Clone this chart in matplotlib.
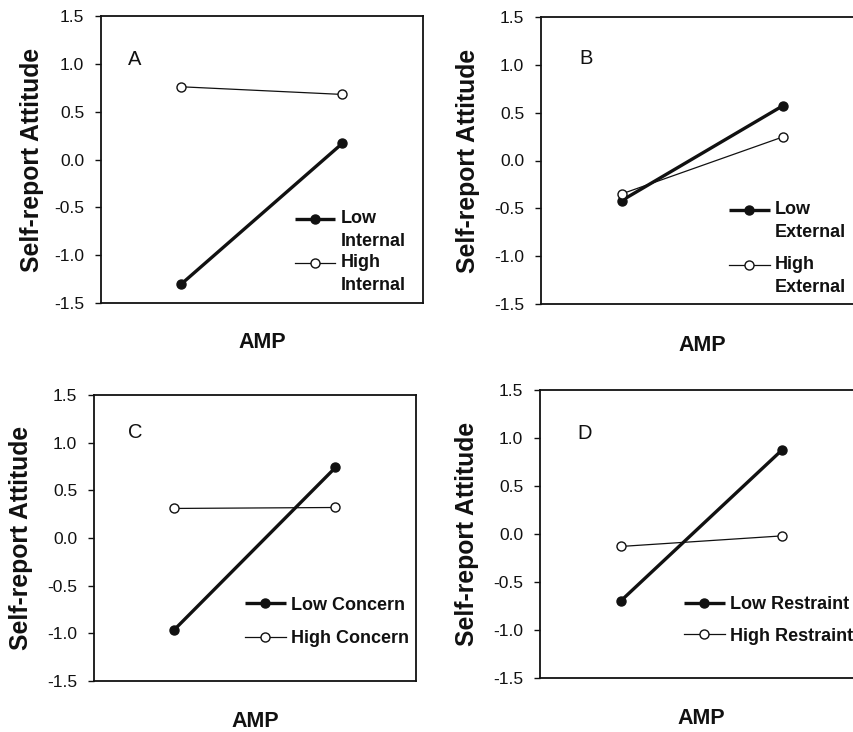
import numpy as np
import matplotlib
matplotlib.use("Agg")
import matplotlib.pyplot as plt
from matplotlib.legend_handler import HandlerLine2D

plt.rcParams['font.family'] = ['Liberation Sans', 'DejaVu Sans']

# ---- data ----
amp_levels = [0, 1]  # low AMP, high AMP
panel_letters = ["A", "B", "C", "D"]
low_labels = ["Low\nInternal", "Low\nExternal", "Low Concern", "Low Restraint"]
high_labels = ["High\nInternal", "High\nExternal", "High Concern", "High Restraint"]
low_A = [-1.30, 0.17]
high_A = [0.76, 0.68]
low_B = [-0.42, 0.57]
high_B = [-0.35, 0.245]
low_C = [-0.96, 0.74]
high_C = [0.31, 0.32]
low_D = [-0.70, 0.87]
high_D = [-0.13, -0.02]
yticks = [-1.5, -1.0, -0.5, 0.0, 0.5, 1.0, 1.5]
ytick_labels = ["-1.5", "-1.0", "-0.5", "0.0", "0.5", "1.0", "1.5"]

lows = [low_A, low_B, low_C, low_D]
highs = [high_A, high_B, high_C, high_D]

W, H = 854, 732
fig = plt.figure(figsize=(W / 100, H / 100), dpi=100)


def rect(l, t, w, b):
    return [l / W, 1 - b / H, w / W, (b - t) / H]


positions = [rect(101, 16, 322, 303), rect(541, 17, 322, 304),
             rect(94, 395, 322, 681), rect(540, 390, 322, 678)]
letter_pos = [(0.084, 0.85), (0.118, 0.854), (0.105, 0.87), (0.115, 0.85)]
ylab_x = [-0.215, -0.227, -0.227, -0.227]
xlab_y = [-0.139, -0.146, -0.14, -0.142]
leg_anchor = [(0.602, 0.179), (0.584, 0.193), (0.469, 0.207), (0.447, 0.2)]
leg_spacing = [0.22, 0.85, 0.89, 0.8]
multi = [True, True, False, False]

FS_LEG = 13
LINESP = 1.47
LINE_PITCH_PT = 16.0  # distance between lines of a two-line label, in points


class FirstLineHandler(HandlerLine2D):
    def __init__(self, shift_pts=0.0, **kw):
        super().__init__(**kw)
        self.shift_pts = shift_pts

    def create_artists(self, legend, orig_handle, xdescent, ydescent,
                       width, height, fontsize, trans):
        arts = super().create_artists(legend, orig_handle, xdescent, ydescent,
                                      width, height, fontsize, trans)
        for a in arts:
            a.set_ydata(np.asarray(a.get_ydata(), dtype=float) + self.shift_pts)
        return arts


for i in range(4):
    ax = fig.add_axes(positions[i])
    l1, = ax.plot(amp_levels, lows[i], color='#111111', lw=2.4, marker='o',
                  ms=6.5, mfc='#111111', mec='#111111', label=low_labels[i],
                  solid_capstyle='butt')
    l2, = ax.plot(amp_levels, highs[i], color='#111111', lw=0.9, marker='o',
                  ms=6.5, mfc='white', mec='#111111', mew=1.0,
                  label=high_labels[i])
    ax.set_xlim(-0.5, 1.5)
    ax.set_ylim(-1.5, 1.5)
    ax.set_yticks(yticks)
    ax.set_yticklabels(ytick_labels)
    ax.set_xticks([])
    ax.tick_params(axis='y', direction='out', length=4, width=1.0,
                   pad=8, labelsize=12.5, colors='#111111')
    for sp in ax.spines.values():
        sp.set_linewidth(1.3)
        sp.set_color('#111111')
    ax.set_ylabel("Self-report Attitude", fontsize=17.8, fontweight='bold',
                  color='#111111')
    ax.yaxis.set_label_coords(ylab_x[i], 0.5)
    ax.yaxis.label.set_va('center')
    ax.set_xlabel("AMP", fontsize=15.5, fontweight='bold', color='#111111')
    ax.xaxis.set_label_coords(0.5, xlab_y[i])
    ax.xaxis.label.set_va('center')
    ax.text(letter_pos[i][0], letter_pos[i][1], panel_letters[i],
            transform=ax.transAxes, fontsize=14.5, ha='left', va='center',
            color='#111111')
    shift = LINE_PITCH_PT / 2 if multi[i] else 0.0
    hm = {l1: FirstLineHandler(shift), l2: FirstLineHandler(shift)}
    leg = ax.legend(handles=[l1, l2], loc='center left',
                    bbox_to_anchor=leg_anchor[i], frameon=False,
                    borderpad=0, borderaxespad=0, handlelength=2.25,
                    handletextpad=0.3, labelspacing=leg_spacing[i],
                    prop={'size': FS_LEG, 'weight': 'bold'}, handler_map=hm)
    for t in leg.get_texts():
        t.set_color('#111111')
        t.set_linespacing(LINESP)

fig.savefig("out.png", dpi=100)
